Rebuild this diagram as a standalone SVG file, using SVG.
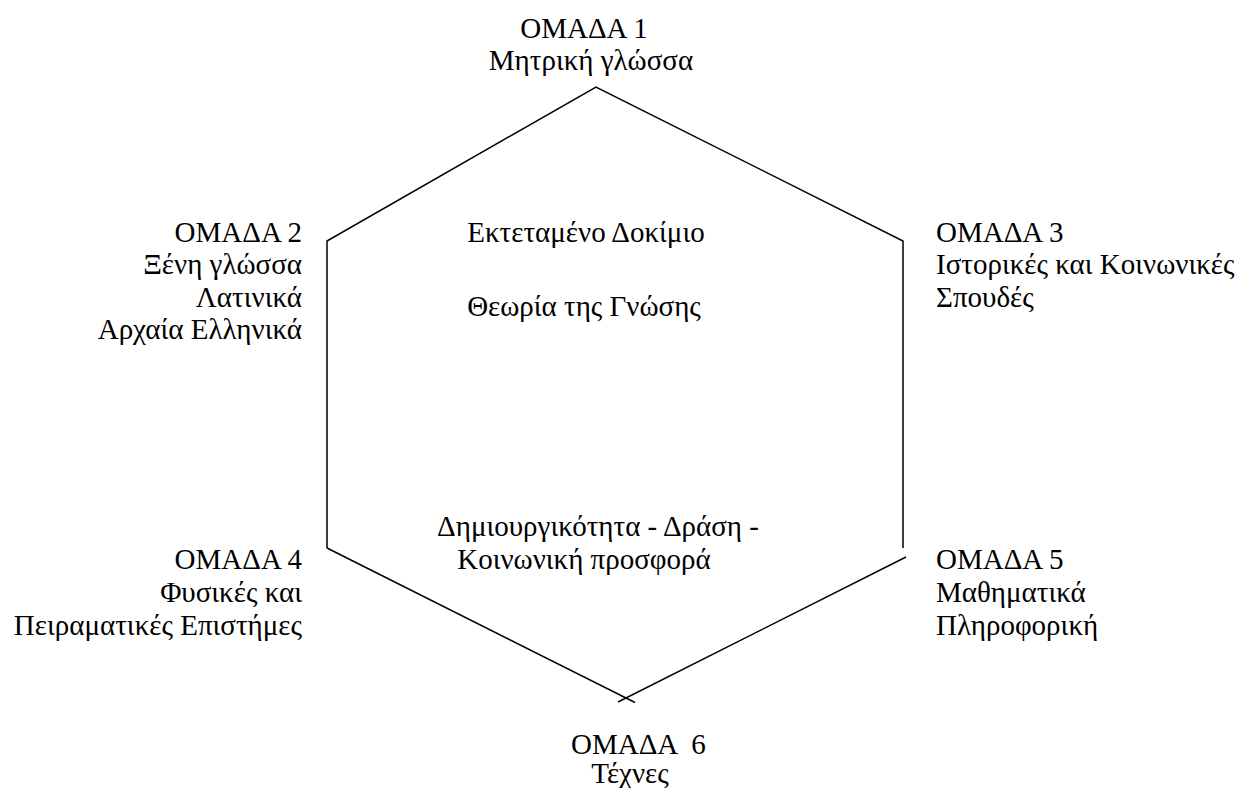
<svg xmlns="http://www.w3.org/2000/svg" width="1241" height="788" viewBox="0 0 1241 788">
<style>
text{font-family:"Liberation Serif",Tinos,"DejaVu Serif",serif;font-size:29px;fill:#000}
.r{text-anchor:end}
.m{text-anchor:middle}
.ln{fill:none;stroke:#000;stroke-width:1.5}
</style>
<rect width="1241" height="788" fill="#fff"/>
<g id="connectors">
<polyline class="ln" points="327,548 327,241 596,87 903,241 903,548"/>
<line class="ln" x1="327" y1="548" x2="635" y2="702.5"/>
<line class="ln" x1="906" y1="557" x2="618" y2="702"/>
</g>
<g id="group1">
<text class="m" x="584" y="38">ΟΜΑΔΑ 1</text>
<text class="m" x="591" y="70">Μητρική γλώσσα</text>
</g>
<g id="group2">
<text class="r" x="302" y="242">ΟΜΑΔΑ 2</text>
<text class="r" x="302" y="274">Ξένη γλώσσα</text>
<text class="r" x="302" y="307">Λατινικά</text>
<text class="r" x="302" y="339">Αρχαία Ελληνικά</text>
</g>
<g id="group3">
<text x="936" y="242">ΟΜΑΔΑ 3</text>
<text x="936" y="274">Ιστορικές και Κοινωνικές</text>
<text x="936" y="307">Σπουδές</text>
</g>
<g id="group4">
<text class="r" x="302" y="569">ΟΜΑΔΑ 4</text>
<text class="r" x="302" y="602">Φυσικές και</text>
<text class="r" x="302" y="635">Πειραματικές Επιστήμες</text>
</g>
<g id="group5">
<text x="936" y="569">ΟΜΑΔΑ 5</text>
<text x="936" y="602">Μαθηματικά</text>
<text x="936" y="635">Πληροφορική</text>
</g>
<g id="group6">
<text x="571" y="754" xml:space="preserve">ΟΜΑΔΑ  6</text>
<text class="m" x="630" y="783">Τέχνες</text>
</g>
<g id="core">
<text class="m" x="586" y="242">Εκτεταμένο Δοκίμιο</text>
<text class="m" x="584" y="316">Θεωρία της Γνώσης</text>
<text class="m" x="598" y="536">Δημιουργικότητα - Δράση -</text>
<text class="m" x="584" y="569">Κοινωνική προσφορά</text>
</g>
</svg>
